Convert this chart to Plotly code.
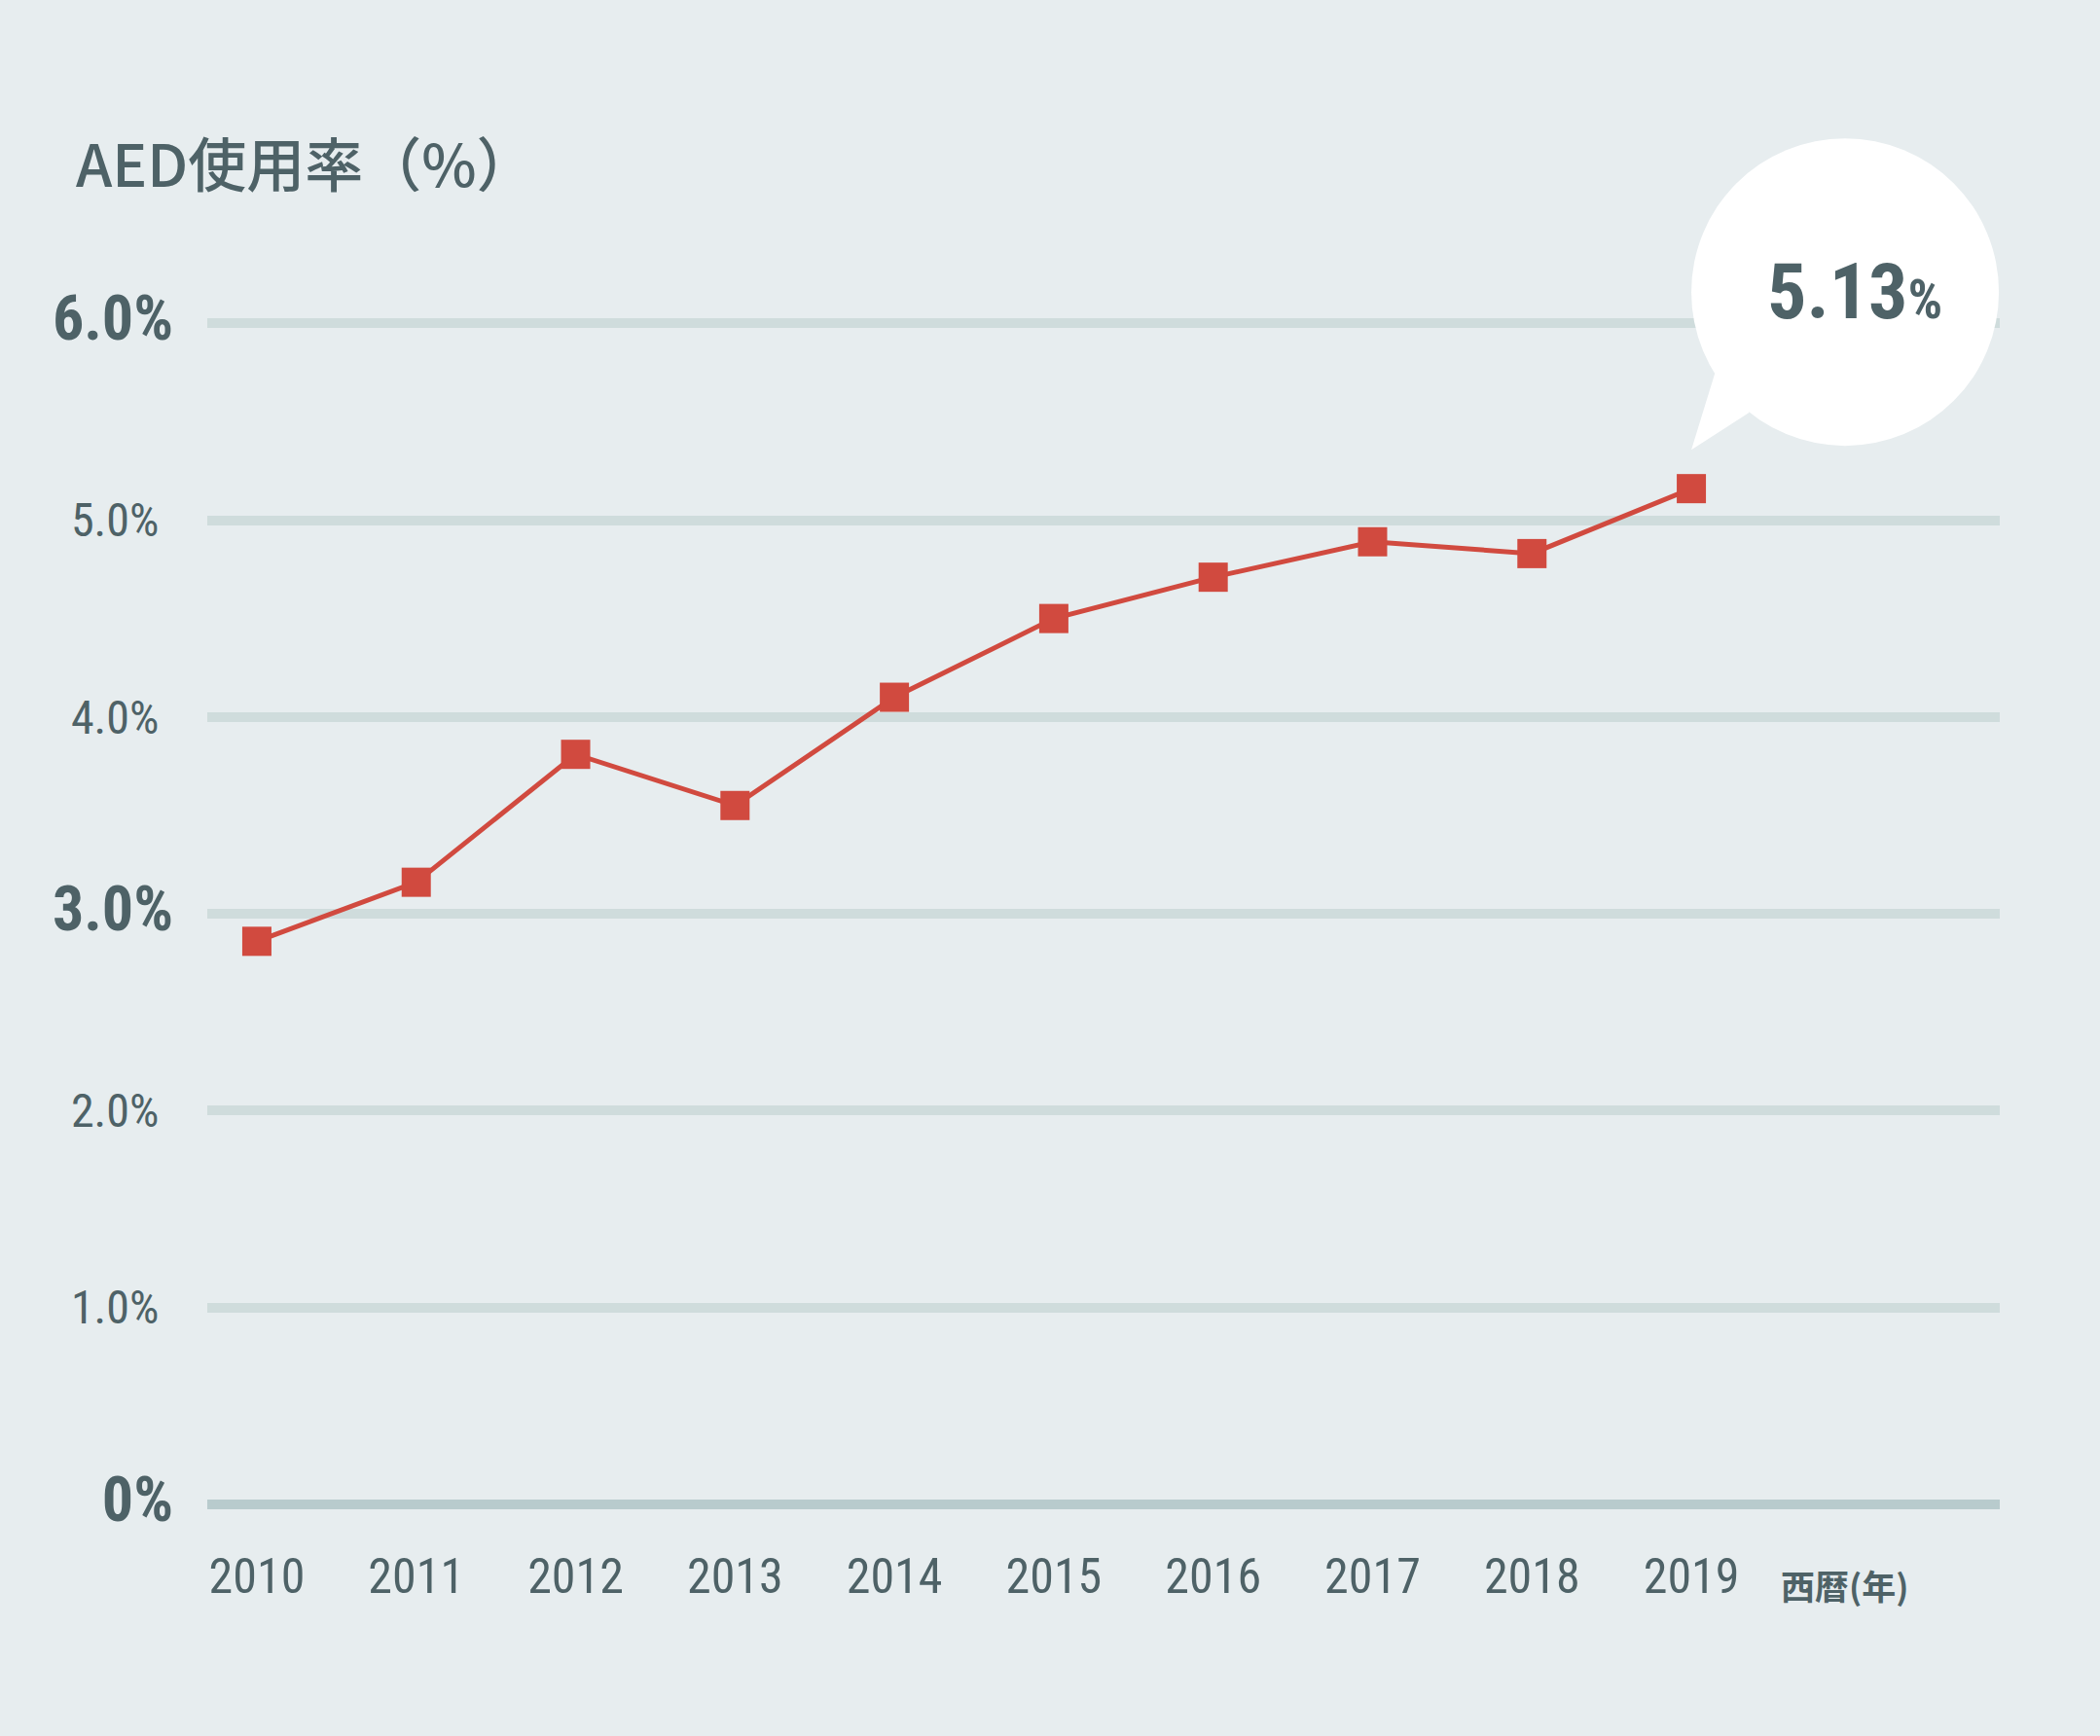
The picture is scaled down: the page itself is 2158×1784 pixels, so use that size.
import plotly.graph_objects as go

# values
years = [2010, 2011, 2012, 2013, 2014, 2015, 2016, 2017, 2018, 2019]
aed_rate = [2.86, 3.16, 3.81, 3.55, 4.10, 4.50, 4.71, 4.89, 4.83, 5.16]
callout_text = "5.13"

y_ticks = [0, 1, 2, 3, 4, 5, 6]
y_labels = ["0%", "1.0%", "2.0%", "3.0%", "4.0%", "5.0%", "6.0%"]
y_bold = ["0%", "3.0%", "6.0%"]

TEXT = "#4e6267"
RED = "#d14a3f"
BG = "#e7edef"
GRID = "#cfdcdc"
NARROW = "Roboto Condensed, Liberation Sans Narrow, Roboto, Liberation Sans, sans-serif"
CJK = "Noto Sans CJK JP, Noto Sans, sans-serif"

tick_text = []
for lab in y_labels:
    if lab in y_bold:
        tick_text.append(f"<span style='font-size:64px'><b>{lab}</b></span>")
    else:
        tick_text.append(lab + "\u2004")  # normal labels sit a bit further left

fig = go.Figure()
fig.add_trace(go.Scatter(
    x=years, y=aed_rate,
    mode="lines+markers",
    line=dict(color=RED, width=5),
    marker=dict(symbol="square", size=30, color=RED),
    hoverinfo="skip",
    showlegend=False,
))

# speech bubble pointing at the last point
last_x, last_y = years[-1], aed_rate[-1]
fig.add_shape(
    type="circle", xref="x", yref="y",
    xsizemode="pixel", ysizemode="pixel",
    xanchor=last_x, yanchor=last_y,
    x0=0, x1=316, y0=44, y1=360,
    fillcolor="white", line=dict(width=0),
)
fig.add_shape(
    type="path", xref="x", yref="y",
    xsizemode="pixel", ysizemode="pixel",
    xanchor=last_x, yanchor=last_y,
    path="M 24,118 L 0,40 L 59,78 L 80,140 Z",
    fillcolor="white", line=dict(width=0),
)
fig.add_annotation(
    x=last_x, y=last_y, xref="x", yref="y",
    text=f"<b>{callout_text}</b><span style='font-size:56px'><b>%</b></span>",
    showarrow=False, xshift=168, yshift=202,
    font=dict(family=NARROW, size=80, color=TEXT),
)

# axis title and unit label
fig.add_annotation(
    x=-0.0744, y=0.9756, xref="paper", yref="paper",
    xanchor="left", yanchor="middle",
    text="AED使用率（%）", showarrow=False,
    font=dict(family=CJK, size=60, color=TEXT, weight=500),
)
fig.add_annotation(
    x=2019.55, y=-0.0432, xref="x", yref="paper",
    xanchor="left", yanchor="middle",
    text="<b>西暦(年)</b>", showarrow=False,
    font=dict(family=CJK, size=35, color=TEXT),
)

fig.update_layout(
    width=2158, height=1784,
    margin=dict(l=213, r=103, t=130, b=218),
    paper_bgcolor=BG, plot_bgcolor=BG,
    xaxis=dict(
        range=[2009.689, 2020.935],
        tickvals=years, ticktext=[str(y) for y in years],
        showgrid=False, zeroline=False, showline=False,
        ticks="", ticklabelstandoff=20,
        tickfont=dict(family=NARROW, size=50, color=TEXT),
        fixedrange=True,
    ),
    yaxis=dict(
        range=[-0.1, 7.0],
        tickvals=y_ticks, ticktext=tick_text,
        showgrid=True, gridcolor=GRID, gridwidth=10,
        zeroline=True, zerolinecolor="#b8cbcd", zerolinewidth=10,
        showline=False, ticks="", ticklabelstandoff=34,
        tickfont=dict(family=NARROW, size=48, color=TEXT),
        fixedrange=True,
    ),
)

fig.write_html("out.html", config={"displayModeBar": False},
               post_script="document.body.style.margin='0';")
